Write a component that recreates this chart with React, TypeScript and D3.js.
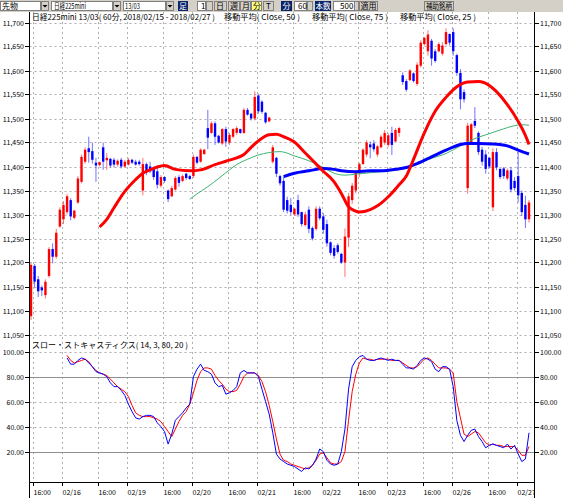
import React from 'react';
import * as d3 from 'd3';

// ---------- DATA ----------
const opens = [11088,11193,11165,11148,11132,11172,11228,11212,11275,11290,11305,11330,11293,11325,11368,11410,11438,11432,11408,11403,11440,11413,11416,11414,11404,11414,11400,11404,11414,11410,11410,11350,11405,11400,11398,11390,11360,11378,11350,11338,11352,11378,11370,11385,11380,11380,11420,11410,11426,11480,11470,11490,11464,11448,11478,11450,11462,11470,11478,11470,11518,11510,11500,11548,11535,11512,11494,11410,11418,11380,11370,11330,11320,11300,11330,11305,11278,11310,11272,11270,11312,11296,11280,11242,11230,11236,11218,11200,11252,11330,11350,11385,11405,11425,11446,11448,11425,11440,11450,11445,11470,11452,11470,11590,11578,11580,11594,11572,11610,11655,11640,11662,11640,11640,11635,11655,11676,11680,11632,11595,11555,11355,11450,11495,11470,11435,11425,11418,11315,11430,11395,11396,11375,11392,11370,11380,11345,11320,11290];
const highs = [11200,11197,11172,11152,11165,11232,11240,11270,11315,11328,11343,11334,11310,11380,11425,11440,11462,11450,11418,11410,11450,11428,11418,11418,11415,11418,11414,11418,11416,11414,11414,11418,11408,11410,11400,11402,11382,11380,11352,11360,11380,11382,11383,11387,11383,11425,11422,11438,11437,11518,11494,11494,11466,11480,11483,11470,11480,11484,11479,11522,11522,11512,11557,11552,11538,11514,11504,11445,11420,11383,11378,11337,11334,11314,11341,11306,11306,11317,11275,11317,11317,11303,11289,11244,11236,11240,11220,11271,11345,11366,11393,11408,11438,11455,11452,11455,11445,11466,11476,11469,11483,11480,11483,11596,11582,11603,11596,11617,11663,11670,11684,11666,11645,11659,11659,11688,11677,11688,11635,11603,11561,11491,11491,11524,11473,11441,11434,11420,11438,11438,11396,11399,11396,11399,11378,11431,11350,11339,11330];
const lows = [11080,11148,11128,11130,11125,11168,11198,11208,11272,11280,11300,11288,11290,11322,11365,11406,11408,11406,11368,11400,11393,11393,11398,11398,11400,11396,11398,11402,11405,11402,11402,11340,11382,11386,11372,11354,11356,11366,11326,11336,11350,11358,11368,11372,11372,11376,11405,11408,11424,11436,11468,11445,11448,11445,11441,11445,11459,11466,11468,11468,11506,11496,11496,11510,11510,11489,11492,11406,11378,11360,11305,11302,11299,11298,11295,11275,11275,11261,11246,11266,11288,11260,11233,11215,11208,11218,11197,11170,11232,11322,11344,11378,11404,11420,11417,11431,11420,11438,11445,11441,11424,11452,11462,11570,11556,11578,11575,11568,11606,11652,11631,11610,11616,11638,11631,11652,11652,11631,11589,11519,11533,11343,11448,11480,11424,11402,11385,11396,11307,11392,11374,11374,11371,11346,11350,11325,11297,11272,11283];
const closes = [11195,11160,11140,11142,11160,11228,11212,11262,11310,11320,11338,11296,11308,11375,11420,11435,11430,11414,11402,11409,11410,11418,11402,11404,11412,11400,11410,11414,11408,11404,11405,11405,11388,11390,11378,11362,11378,11370,11332,11355,11376,11366,11380,11376,11374,11420,11408,11435,11435,11460,11490,11462,11450,11478,11452,11466,11478,11480,11470,11518,11508,11500,11545,11515,11514,11492,11502,11440,11385,11365,11310,11308,11305,11312,11300,11280,11300,11270,11250,11312,11292,11268,11240,11220,11214,11222,11200,11254,11338,11360,11388,11405,11435,11450,11440,11436,11442,11462,11470,11465,11445,11476,11480,11576,11560,11600,11578,11612,11658,11668,11675,11625,11620,11655,11652,11680,11658,11640,11595,11540,11540,11485,11488,11485,11430,11410,11395,11400,11430,11398,11378,11380,11392,11352,11355,11340,11305,11290,11325];

// moving averages (bar index, value)
const ma25Idx = [19,21,23,26,29,31,33,35,37,40,44,47,51,54,57,59,61,64,66,68,70,73,76,78,81,84,86,88,90,91,94,96,99,102,104,106,109,112,115,118,121,124,127,129,132,135,137,138];
const ma25Val = [11274,11290,11314,11348,11373,11386,11393,11399,11402,11394,11391,11393,11404,11411,11418,11425,11440,11459,11466,11467,11462,11451,11428,11413,11390,11368,11344,11316,11307,11305,11310,11318,11337,11362,11380,11415,11470,11515,11544,11566,11576,11577,11569,11556,11529,11494,11465,11446];
const ma50Idx = [44,46,49,52,55,57,60,63,66,69,70,73,77,81,84,87,90,94,97,101,104,107,111,115,119,122,126,130,134,136,138];
const ma50Val = [11332,11343,11358,11375,11393,11404,11415,11424,11429,11431,11430,11422,11412,11398,11386,11382,11384,11387,11389,11393,11396,11406,11417,11427,11443,11455,11466,11476,11485,11487,11486];
const ma75Idx = [70,73,77,81,84,86,90,94,97,101,104,107,111,115,119,121,124,128,132,135,138];
const ma75Val = [11379,11386,11391,11396,11394,11391,11389,11391,11391,11394,11398,11406,11420,11434,11446,11448,11448,11447,11443,11434,11426];

// slow stochastics, first value at bar 10
const stochStart = 10;
const stochK = [95,90,90,93,95,94,91,88,84,83,82,80,75,72,72,69,65,58,52,47,46,48,49,49,48,43,40,36,26,34,45,48,51,55,58,80,86,90,85,84,82,75,72,73,66,67,69,72,83,85,83,83,83,80,70,60,50,35,18,14,12,10,9,8,6,4,7,6,9,14,22,20,13,10,9,10,20,38,70,88,93,96,97,94,93,93,94,95,94,93,94,93,93,90,87,87,86,89,93,95,94,92,86,84,88,88,86,72,45,33,28,33,37,38,32,28,23,25,26,25,24,23,26,22,25,18,12,14,35];
const stochD = [97,93,91,92,93,94,92,88,85,83,82,81,78,75,72,70,68,64,57,51,49,48,48,48,47,46,44,40,36,32,38,44,49,52,58,67,77,84,87,87,86,81,77,74,70,68,68,69,74,80,83,83,83,81,76,68,57,44,30,18,13,12,10,9,8,7,6,7,9,13,18,19,15,11,10,10,12,20,45,68,82,91,95,94,94,93,94,94,94,94,93,93,93,91,89,87,87,88,91,94,95,93,90,87,87,87,86,83,60,47,34,32,34,36,35,31,27,25,26,25,25,24,24,24,24,21,17,17,24];

const priceTicks = [11050,11100,11150,11200,11250,11300,11350,11400,11450,11500,11550,11600,11650,11700];
const stochTicks = [20,40,60,80,100];
const timeTickIdx = [1,9,19,27,37,45,55,63,73,81,91,99,109,117,127,135];
const timeTickLabels = ['16:00','02/16','16:00','02/19','16:00','02/20','16:00','02/21','16:00','02/22','16:00','02/23','16:00','02/26','16:00','02/27'];

const headerTexts = ['日経225mini 13/03( 60分, 2018/02/15 - 2018/02/27 )','移動平均( Close, 50 )','移動平均( Close, 75 )','移動平均( Close, 25 )'];
const stochTitle = 'スロー・ストキャスティクス( 14, 3, 80, 20 )';

const FONT = "'MS Gothic','Noto Sans CJK JP',sans-serif";

export default function App() {
  const W = 563, H = 498;
  const axL = 29.5, axR = 534.5, axB = 482.5;
  const x = d3.scaleLinear().domain([0, 138]).range([31, 529]);
  const step = x(1) - x(0);
  const yP = d3.scaleLinear().domain([11050, 11700]).range([334.5, 22.5]);
  const yS = d3.scaleLinear().domain([0, 100]).range([476.5, 351.7]);

  const maLine = (idx: number[], val: number[]) =>
    d3.line<number>().x((d, i) => x(idx[i])).y((d) => yP(d)).curve(d3.curveMonotoneX)(val) || '';
  const stLine = (arr: number[]) =>
    d3.line<number>().x((d, i) => x(stochStart + i)).y((d) => yS(d))(arr) || '';

  const fmtP = d3.format(',');
  const fmtS = (v: number) => v.toFixed(2);

  // toolbar pieces
  const box = (x0: number, x1: number, fill: string) => (
    <rect x={x0 + 0.5} y={1.5} width={x1 - x0 - 1} height={9} fill={fill} stroke="#808080" strokeWidth={1} />
  );
  const btn = (x0: number, x1: number) => (
    <g>
      <rect x={x0 + 0.5} y={1.5} width={x1 - x0 - 1} height={9} fill="#d4d0c8" stroke="#808080" />
      <path d={`M${(x0 + x1) / 2 - 2.5},5 L${(x0 + x1) / 2 + 2.5},5 L${(x0 + x1) / 2},7.5 Z`} fill="#000" />
    </g>
  );
  const tbText = (t: string, tx: number, color = '#000', len?: number) => (
    <text x={tx} y={9.2} fontSize={8} fill={color} fontFamily={FONT} textLength={len} lengthAdjust={len ? 'spacingAndGlyphs' : undefined}>{t}</text>
  );

  return (
    <svg width={W} height={H} style={{ position: 'absolute', left: 0, top: 0, background: '#fff' }}>
      <rect x={0} y={0} width={W} height={H} fill="#fff" />
      {/* toolbar */}
      <rect x={0} y={0} width={W} height={12} fill="#d4d0c8" />
      {box(0, 41, '#fff')}{tbText('先物', 2)}{btn(41, 49)}
      {box(51, 113, '#fff')}{tbText('日経225mini', 54, '#000', 32)}{btn(113, 121)}
      {box(123, 166, '#fff')}{tbText('13/03', 125, '#000', 15)}{btn(166, 174)}
      <rect x={178} y={1} width={10} height={10} fill="#0a246a" />{tbText('足', 179, '#fff')}
      {box(197, 206, '#fff')}{tbText('1', 201)}
      <rect x={206.5} y={1.5} width={6} height={9} fill="#d4d0c8" stroke="#808080" />
      {box(214, 227, '#d4d0c8')}{tbText('日', 216)}
      {box(228, 240, '#d4d0c8')}{tbText('週', 230)}
      {box(240, 251, '#d4d0c8')}{tbText('月', 242)}
      {box(251, 262, '#ffff80')}{tbText('分', 253)}
      {box(263, 274, '#d4d0c8')}{tbText('T', 266)}
      <rect x={281} y={1} width={11} height={10} fill="#0a246a" />{tbText('分', 282.5, '#fff')}
      {box(294, 307, '#fff')}{tbText('60', 298)}
      <rect x={307.5} y={1.5} width={5} height={9} fill="#d4d0c8" stroke="#808080" />
      <rect x={315} y={1} width={16} height={10} fill="#0a246a" />{tbText('本数', 315.5, '#fff', 15)}
      {box(333, 355, '#fff')}{tbText('500', 340)}
      <rect x={354.5} y={1.5} width={4} height={9} fill="#d4d0c8" stroke="#808080" />
      {box(359, 378, '#d4d0c8')}{tbText('適用', 360.5, '#000', 16)}
      {box(424, 454, '#d4d0c8')}{tbText('補助銘柄', 426, '#000', 26)}

      {/* vertical gridlines */}
      {timeTickIdx.map((t, i) => (
        <line key={'vg' + i} x1={Math.round(x(t) - step * 0.4) + 0.5} x2={Math.round(x(t) - step * 0.4) + 0.5} y1={12} y2={axB}
          stroke="#a8b4a8" strokeDasharray="2,3" />
      ))}
      {/* price gridlines */}
      {priceTicks.map((p) => (
        <line key={'hg' + p} x1={axL} x2={axR} y1={Math.round(yP(p)) + 0.5} y2={Math.round(yP(p)) + 0.5} stroke="#b4a8b4" strokeDasharray="2,3" />
      ))}
      {/* stoch gridlines */}
      {stochTicks.map((s) => (
        <line key={'sg' + s} x1={axL} x2={axR} y1={Math.round(yS(s)) + 0.5} y2={Math.round(yS(s)) + 0.5}
          stroke={s === 80 || s === 20 ? '#909090' : '#b4a8b4'} strokeDasharray={s === 80 || s === 20 ? undefined : '2,3'} />
      ))}

      {/* candles */}
      {closes.map((c, i) => {
        const o = opens[i];
        const col = c >= o ? '#ff0000' : '#0000ff';
        const top = yP(Math.max(o, c));
        const bot = yP(Math.min(o, c));
        return (
          <g key={'c' + i}>
            <line x1={x(i)} x2={x(i)} y1={yP(highs[i])} y2={yP(lows[i])} stroke={col} strokeWidth={1} opacity={0.55} />
            <rect x={x(i) - 1.2} y={top} width={2.4} height={Math.max(1, bot - top)} fill={col} />
          </g>
        );
      })}

      {/* moving averages */}
      <path d={maLine(ma50Idx, ma50Val)} fill="none" stroke="#3cb371" strokeWidth={1} />
      <path d={maLine(ma75Idx, ma75Val)} fill="none" stroke="#0000ff" strokeWidth={3} />
      <path d={maLine(ma25Idx, ma25Val)} fill="none" stroke="#ff0000" strokeWidth={3} />

      {/* stochastics */}
      <path d={stLine(stochD)} fill="none" stroke="#ff0000" strokeWidth={1} />
      <path d={stLine(stochK)} fill="none" stroke="#0000ff" strokeWidth={1} />

      {/* header texts */}
      <text x={32} y={20} fontSize={8} fontFamily={FONT} textLength={183} lengthAdjust="spacingAndGlyphs">{headerTexts[0]}</text>
      <text x={224} y={20} fontSize={8} fontFamily={FONT} textLength={76} lengthAdjust="spacingAndGlyphs">{headerTexts[1]}</text>
      <text x={312} y={20} fontSize={8} fontFamily={FONT} textLength={76} lengthAdjust="spacingAndGlyphs">{headerTexts[2]}</text>
      <text x={400} y={20} fontSize={8} fontFamily={FONT} textLength={76} lengthAdjust="spacingAndGlyphs">{headerTexts[3]}</text>
      <text x={32} y={348} fontSize={8} fontFamily={FONT} textLength={156} lengthAdjust="spacingAndGlyphs">{stochTitle}</text>

      {/* axes */}
      <line x1={axL} x2={axL} y1={12} y2={H} stroke="#000" />
      <line x1={axR} x2={axR} y1={12} y2={H} stroke="#000" />
      <line x1={axL} x2={axR} y1={axB} y2={axB} stroke="#000" />

      {priceTicks.map((p) => {
        const yy = Math.round(yP(p)) + 0.5;
        return (
          <g key={'pt' + p}>
            <line x1={25} x2={axL} y1={yy} y2={yy} stroke="#000" />
            <line x1={axR} x2={539} y1={yy} y2={yy} stroke="#000" />
            <text x={24} y={yy + 2.5} fontSize={7} fontFamily={FONT} textAnchor="end">{fmtP(p)}</text>
            <text x={540} y={yy + 2.5} fontSize={7} fontFamily={FONT}>{fmtP(p)}</text>
          </g>
        );
      })}
      {stochTicks.map((s) => {
        const yy = Math.round(yS(s)) + 0.5;
        return (
          <g key={'st' + s}>
            <line x1={25} x2={axL} y1={yy} y2={yy} stroke="#000" />
            <line x1={axR} x2={539} y1={yy} y2={yy} stroke="#000" />
            <text x={24} y={yy + 2.5} fontSize={7} fontFamily={FONT} textAnchor="end">{fmtS(s)}</text>
            <text x={540} y={yy + 2.5} fontSize={7} fontFamily={FONT}>{fmtS(s)}</text>
          </g>
        );
      })}
      <clipPath id="xlab"><rect x={0} y={483} width={axR} height={15} /></clipPath>
      <g clipPath="url(#xlab)">
        {timeTickIdx.map((t, i) => {
          const xx = Math.round(x(t) - step * 0.4) + 0.5;
          return (
            <g key={'xt' + i}>
              <line x1={xx} x2={xx} y1={axB} y2={486} stroke="#000" />
              <text x={xx} y={494.5} fontSize={7} fontFamily={FONT}>{timeTickLabels[i]}</text>
            </g>
          );
        })}
      </g>
    </svg>
  );
}
